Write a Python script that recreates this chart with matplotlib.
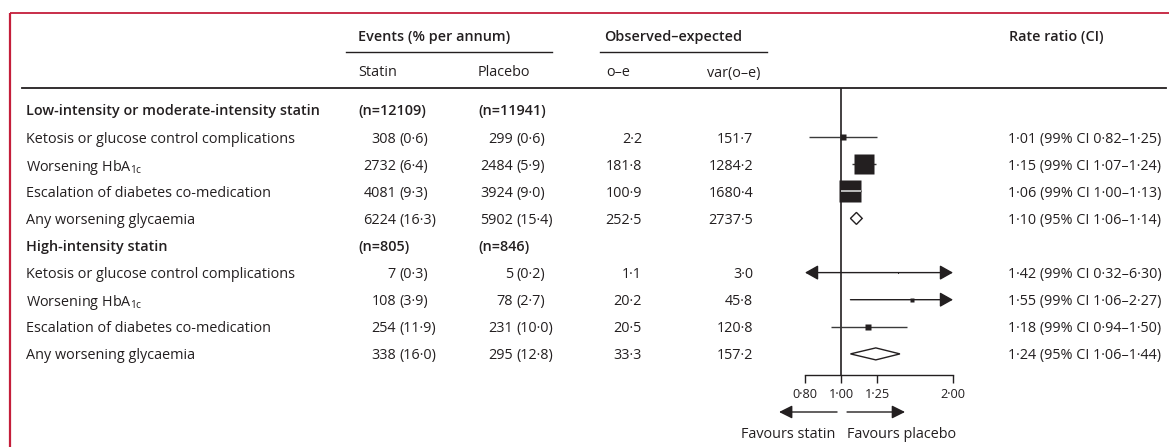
import numpy as np
import matplotlib
matplotlib.use("Agg")
import matplotlib.pyplot as plt
from matplotlib.patches import Polygon

plt.rcParams["font.family"] = ["Open Sans", "DejaVu Sans"]
plt.rcParams["mathtext.default"] = "regular"

# ---------------------------------------------------------------- data
groups = ["Low-intensity or moderate-intensity statin", "High-intensity statin"]
n_statin = [12109, 805]
n_placebo = [11941, 846]
outcomes = ["Ketosis or glucose control complications",
            "Worsening HbA$_{1c}$",
            "Escalation of diabetes co-medication",
            "Any worsening glycaemia"]
is_summary = [False, False, False, True]

statin_events = [[308, 2732, 4081, 6224], [7, 108, 254, 338]]
statin_rate = [[0.6, 6.4, 9.3, 16.3], [0.3, 3.9, 11.9, 16.0]]
placebo_events = [[299, 2484, 3924, 5902], [5, 78, 231, 295]]
placebo_rate = [[0.6, 5.9, 9.0, 15.4], [0.2, 2.7, 10.0, 12.8]]
o_minus_e = [[2.2, 181.8, 100.9, 252.5], [1.1, 20.2, 20.5, 33.3]]
var_o_e = [[151.7, 1284.2, 1680.4, 2737.5], [3.0, 45.8, 120.8, 157.2]]
rate_ratio = [[1.01, 1.15, 1.06, 1.10], [1.42, 1.55, 1.18, 1.24]]
ci_low = [[0.82, 1.07, 1.00, 1.06], [0.32, 1.06, 0.94, 1.06]]
ci_high = [[1.25, 1.24, 1.13, 1.14], [6.30, 2.27, 1.50, 1.44]]
ci_level = [[99, 99, 99, 95], [99, 99, 99, 95]]

axis_ticks = [0.80, 1.00, 1.25, 2.00]
axis_range = (0.80, 2.00)

# ---------------------------------------------------------------- layout
W, H = 1169, 447
INK = "#231f20"
RED = "#c41e3a"
FS = 10.4

row0, drow = 110.0, 27.1          # first row centre and row pitch (px)
def row_y(i):
    return row0 + drow * i

def dot(v, nd):
    return f"{v:.{nd}f}".replace(".", "\u00b7")

fig = plt.figure(figsize=(W / 100, H / 100), dpi=100)
ax = fig.add_axes([0, 0, 1, 1])
ax.set_xlim(0, W)
ax.set_ylim(H, 0)
ax.axis("off")

def txt(x, y, s, ha="left", bold=False, size=FS):
    return ax.text(x, y, s, ha=ha, va="center_baseline", fontsize=size,
                   fontweight="semibold" if bold else "normal", color=INK)

# frame rules
ax.plot([9.5, W], [12.5, 12.5], color=RED, lw=1.3, solid_capstyle="butt")
ax.plot([9.5, 9.5], [12.5, H], color=RED, lw=1.6, solid_capstyle="butt")

# column headers
txt(358, 35, "Events (% per annum)", bold=True)
txt(604, 35, "Observed\u2013expected", bold=True)
txt(1009, 35, "Rate ratio (CI)", bold=True)
ax.plot([346, 552], [52, 52], color=INK, lw=1.0)
ax.plot([600, 767], [52, 52], color=INK, lw=1.0)
txt(358, 71, "Statin")
txt(478, 71, "Placebo")
txt(606, 71, "o\u2013e")
txt(707, 71, "var(o\u2013e)")
ax.plot([22, 1166], [88, 88], color=INK, lw=1.3)

# column anchors
X_LABEL = 26
X_ST, X_PL = 358, 478            # group-row headers
X_ST_P, X_PL_P = 399, 516        # position of "(" in event cells
X_OE, X_VAR = 642, 753
X_RR = 1008

# ---------------------------------------------------------------- forest axes
ax_left, ax_right = 805, 953
ax_top, ax_bottom = 88, 375
fx = fig.add_axes([ax_left / W, 1 - ax_bottom / H,
                   (ax_right - ax_left) / W, (ax_bottom - ax_top) / H])
fx.set_xscale("log")
fx.set_xlim(*axis_range)
fx.set_ylim((ax_bottom - row0) / drow, (ax_top - row0) / drow)
fx.patch.set_alpha(0)
for s in ("top", "left", "right"):
    fx.spines[s].set_visible(False)
fx.spines["bottom"].set_linewidth(1.0)
fx.spines["bottom"].set_color(INK)
fx.set_yticks([])
fx.xaxis.set_minor_locator(matplotlib.ticker.NullLocator())
fx.set_xticks(axis_ticks)
fx.set_xticklabels([dot(t, 2) for t in axis_ticks], fontsize=9.2, color=INK)
fx.tick_params(axis="x", direction="out", length=5.5, width=1.0, color=INK, pad=4)
fx.axvline(1.0, color=INK, lw=1.2, zorder=1)

px_per_ln = (ax_right - ax_left) / np.log(axis_range[1] / axis_range[0])
lo_lim, hi_lim = axis_range

def arrow(x0, x1, y, style):
    fx.annotate("", xy=(x1, y), xytext=(x0, y),
                arrowprops=dict(arrowstyle=f"{style},head_length=0.8,head_width=0.45",
                                color=INK, lw=1.0, shrinkA=0, shrinkB=0,
                                mutation_scale=10), zorder=3)

# ---------------------------------------------------------------- rows
r = 0
for g in range(len(groups)):
    txt(X_LABEL, row_y(r), groups[g], bold=True)
    txt(X_ST, row_y(r), f"(n={n_statin[g]})", bold=True)
    txt(X_PL, row_y(r), f"(n={n_placebo[g]})", bold=True)
    r += 1
    for k in range(len(outcomes)):
        y = row_y(r)
        txt(X_LABEL, y, outcomes[k])
        txt(X_ST_P - 3, y, f"{statin_events[g][k]}", ha="right")
        txt(X_ST_P, y, f"({dot(statin_rate[g][k], 1)})")
        txt(X_PL_P - 3, y, f"{placebo_events[g][k]}", ha="right")
        txt(X_PL_P, y, f"({dot(placebo_rate[g][k], 1)})")
        txt(X_OE, y, dot(o_minus_e[g][k], 1), ha="right")
        txt(X_VAR, y, dot(var_o_e[g][k], 1), ha="right")
        txt(X_RR, y, f"{dot(rate_ratio[g][k], 2)} ({ci_level[g][k]}% CI "
                     f"{dot(ci_low[g][k], 2)}\u2013{dot(ci_high[g][k], 2)})")

        est, lo, hi = rate_ratio[g][k], ci_low[g][k], ci_high[g][k]
        if is_summary[k]:
            h = 6.0 / drow
            fx.add_patch(Polygon([(lo, r), (est, r - h), (hi, r), (est, r + h)],
                                 closed=True, facecolor="white", edgecolor=INK,
                                 lw=1.0, zorder=3))
        else:
            left_out, right_out = lo < lo_lim, hi > hi_lim
            a, b = max(lo, lo_lim), min(hi, hi_lim)
            if left_out and right_out:
                arrow(a, b, r, "<|-|>")
            elif right_out:
                arrow(a, b, r, "-|>")
            elif left_out:
                arrow(b, a, r, "-|>")
            else:
                fx.plot([a, b], [r, r], color="#3a3a3a", lw=1.0, zorder=2,
                        solid_capstyle="butt")
            side = 0.56 * np.sqrt(var_o_e[g][k])      # square side in px
            fx.plot([est], [r], marker="s", ms=side * 0.72, color=INK,
                    mec="none", zorder=4)
            half = side / 2
            sq_lo = np.log(est) * px_per_ln - half
            sq_hi = np.log(est) * px_per_ln + half
            if np.log(lo) * px_per_ln >= sq_lo and np.log(hi) * px_per_ln <= sq_hi:
                fx.plot([lo, hi], [r, r], color="#c8c8c8", lw=1.3, zorder=5,
                        solid_capstyle="butt")
        r += 1

# direction arrows under the axis
x1 = ax_left + px_per_ln * np.log(1.0 / lo_lim)
for x0, x1_, ha_label, label, xl in [
        (x1 - 4, x1 - 62, "right", "Favours statin", x1 - 6),
        (x1 + 6, x1 + 64, "left", "Favours placebo", x1 + 6)]:
    ax.annotate("", xy=(x1_, 412), xytext=(x0, 412),
                arrowprops=dict(arrowstyle="-|>,head_length=0.8,head_width=0.4",
                                color=INK, lw=1.0, shrinkA=0, shrinkB=0,
                                mutation_scale=10))
    txt(xl, 433, label, ha=ha_label)

fig.savefig("out.png", dpi=100)
